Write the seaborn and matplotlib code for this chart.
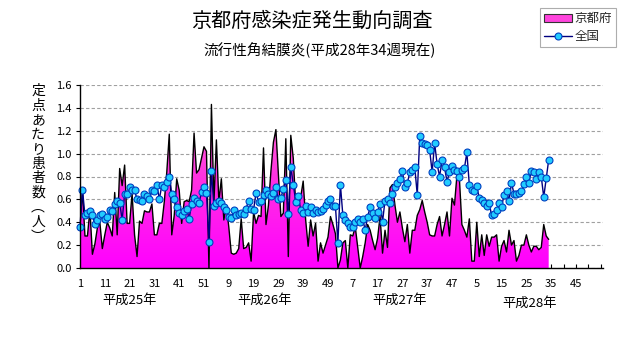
import numpy as np
import pandas as pd
import matplotlib
matplotlib.use("Agg")
import matplotlib.pyplot as plt
import seaborn as sns
from matplotlib.patches import Patch
from matplotlib.lines import Line2D
from matplotlib.colors import LinearSegmentedColormap

# ---------------- data ----------------
kyoto = [
    0.38, 0.68, 0.28, 0.28, 0.51, 0.12, 0.21, 0.35, 0.40, 0.17,
    0.29, 0.40, 0.35, 0.28, 0.66, 0.29, 0.87, 0.72, 0.90, 0.39,
    0.39, 0.65, 0.29, 0.10, 0.41, 0.39, 0.50, 0.49, 0.49, 0.56,
    0.29, 0.29, 0.39, 0.39, 0.58, 0.84, 1.17, 0.29, 0.46, 0.78,
    0.68, 0.39, 0.58, 0.59, 0.58, 0.68, 1.18, 0.83, 0.86, 0.96,
    1.06, 1.02, 0.00, 1.43, 0.57, 1.12, 0.58, 0.78, 0.42, 0.55,
    0.36, 0.13, 0.12, 0.13, 0.17, 0.43, 0.17, 0.18, 0.22, 0.06,
    0.49, 0.39, 0.46, 0.45, 1.05, 0.38, 0.55, 0.85, 1.10, 1.21,
    0.82, 0.45, 0.48, 1.13, 0.10, 1.16, 0.96, 0.55, 0.55, 0.62,
    0.76, 0.42, 0.19, 0.42, 0.28, 0.39, 0.06, 0.22, 0.13, 0.20,
    0.27, 0.45, 0.38, 0.30, 0.00, 0.07, 0.22, 0.24, 0.00, 0.29,
    0.28, 0.36, 0.18, 0.00, 0.10, 0.22, 0.38, 0.33, 0.24, 0.16,
    0.26, 0.45, 0.13, 0.33, 0.18, 0.70, 0.73, 0.55, 0.40, 0.49,
    0.35, 0.23, 0.38, 0.13, 0.33, 0.33, 0.46, 0.51, 0.59, 0.49,
    0.40, 0.29, 0.28, 0.28, 0.38, 0.45, 0.28, 0.38, 0.49, 0.28,
    0.61, 0.55, 0.81, 0.78, 0.38, 0.33, 0.27, 0.43, 0.06, 0.06,
    0.40, 0.10, 0.29, 0.11, 0.29, 0.19, 0.27, 0.27, 0.29, 0.06,
    0.19, 0.24, 0.14, 0.33, 0.20, 0.24, 0.06, 0.11, 0.20, 0.20,
    0.29, 0.20, 0.14, 0.19, 0.19, 0.16, 0.18, 0.38, 0.28, 0.25,
]
national = [
    0.36, 0.685, 0.46, 0.48, 0.50, 0.46, 0.385, 0.42, 0.46, 0.47,
    0.43, 0.45, 0.51, 0.50, 0.56, 0.59, 0.57, 0.42, 0.65, 0.65,
    0.71, 0.68, 0.68, 0.60, 0.595, 0.585, 0.65, 0.63, 0.60, 0.68,
    0.67, 0.73, 0.60, 0.725, 0.71, 0.755, 0.80, 0.645, 0.60, 0.535,
    0.48, 0.46, 0.50, 0.52, 0.43, 0.56, 0.61, 0.59, 0.565, 0.665,
    0.71, 0.66, 0.23, 0.85, 0.54, 0.57, 0.59, 0.565, 0.535, 0.51,
    0.45, 0.435, 0.51, 0.46, 0.47, 0.48, 0.47, 0.52, 0.59, 0.52,
    0.51, 0.66, 0.58, 0.59, 0.64, 0.68, 0.65, 0.63, 0.66, 0.705,
    0.60, 0.61, 0.69, 0.77, 0.47, 0.885, 0.73, 0.58, 0.63, 0.51,
    0.48, 0.54, 0.49, 0.53, 0.48, 0.51, 0.49, 0.50, 0.52, 0.55,
    0.59, 0.60, 0.54, 0.54, 0.22, 0.73, 0.46, 0.42, 0.39, 0.36,
    0.355, 0.40, 0.43, 0.40, 0.43, 0.33, 0.45, 0.53, 0.48, 0.44,
    0.49, 0.56, 0.405, 0.59, 0.60, 0.57, 0.65, 0.705, 0.74, 0.775,
    0.85, 0.705, 0.74, 0.84, 0.86, 0.88, 0.64, 1.15, 1.09, 1.08,
    1.075, 1.03, 0.84, 1.09, 0.91, 0.80, 0.94, 0.88, 0.755, 0.84,
    0.89, 0.86, 0.85, 0.80, 0.86, 0.87, 1.01, 0.725, 0.68, 0.675,
    0.715, 0.61, 0.595, 0.57, 0.54, 0.565, 0.46, 0.47, 0.51, 0.565,
    0.535, 0.64, 0.67, 0.59, 0.745, 0.65, 0.65, 0.66, 0.67, 0.735,
    0.80, 0.745, 0.85, 0.84, 0.775, 0.84, 0.80, 0.62, 0.785, 0.945,
]
tick_labels = ["1", "11", "21", "31", "41", "51", "9", "19", "29", "39", "49",
               "7", "17", "27", "37", "47", "5", "15", "25", "35", "45"]
year_labels = ["平成25年", "平成26年", "平成27年", "平成28年"]
series_names = ["京都府", "全国"]
title = "京都府感染症発生動向調査"
subtitle = "流行性角結膜炎(平成28年34週現在)"
ylabel_chars = ["定", "点", "あ", "た", "り", "患", "者", "数", "︵", "人", "︶"]

# ---------------- style ----------------
sns.set_theme(style="white")
plt.rcParams["font.family"] = ["Noto Sans CJK JP", "DejaVu Sans"]

W, H = 631, 347
fig = plt.figure(figsize=(W / 100, H / 100), dpi=100)
fig.patch.set_facecolor("white")
ax = fig.add_axes([80 / W, 1 - 268 / H, 523 / W, 183 / H])
ax.set_facecolor("white")

df = pd.DataFrame({"idx": np.arange(len(kyoto)), "kyoto": kyoto, "national": national})
n = len(df)

# gradient filled area for Kyoto
poly = ax.fill_between(df["idx"], 0, df["kyoto"], facecolor="none", edgecolor="none", zorder=1)
grad = np.linspace(0, 1, 256).reshape(-1, 1)
cmap = LinearSegmentedColormap.from_list("g", ["#FF00FF", "#FF33E0", "#FF80D0"])
im = ax.imshow(grad, extent=(0, n - 1, 0, 1.6), origin="lower", aspect="auto",
               cmap=cmap, zorder=1, interpolation="bilinear")
im.set_clip_path(poly.get_paths()[0], transform=ax.transData)

sns.lineplot(data=df, x="idx", y="kyoto", color="black", lw=1.0, ax=ax, zorder=3)
sns.lineplot(data=df, x="idx", y="national", color="#000080", lw=1.0, marker="o",
             markersize=5, markerfacecolor="#22CCFF", markeredgecolor="#0040C0",
             markeredgewidth=0.8, ax=ax, zorder=4, clip_on=False)

ax.set_xlim(0, 210.9)
ax.set_ylim(0, 1.6)
ax.set_xlabel("")
ax.set_ylabel("")

ax.set_xticks(np.arange(0, 201, 10))
ax.set_xticklabels(tick_labels)
ax.set_xticks(np.arange(0, 211, 5), minor=True)
yt = np.round(np.arange(0, 1.61, 0.2), 1)
ax.set_yticks(yt)
ax.set_yticklabels([f"{v:.1f}" for v in yt])

ax.tick_params(axis="x", which="both", bottom=True, direction="in", length=3, width=0.8,
               color="black", pad=8, labelsize=8, labelcolor="black")
ax.tick_params(axis="y", left=True, direction="out", length=3, width=0.8,
               color="black", pad=3, labelsize=8, labelcolor="black")

ax.yaxis.grid(True, linestyle=(0, (3, 2)), color="#A0A0A0", lw=0.8)
ax.xaxis.grid(False)
ax.set_axisbelow(True)
for s in ["top", "right"]:
    ax.spines[s].set_visible(False)
for s in ["left", "bottom"]:
    ax.spines[s].set_color("black")
    ax.spines[s].set_linewidth(1.0)
    ax.spines[s].set_zorder(5)

# titles
fig.text(312 / W, 1 - 21 / H, title, ha="center", va="center", fontsize=14.5, color="black")
fig.text(320 / W, 1 - 50 / H, subtitle, ha="center", va="center", fontsize=10.5, color="black")

# vertical y label
fig.text(38 / W, 1 - 84 / H, "\n".join(ylabel_chars), ha="center", va="top",
         fontsize=10, linespacing=1.05, color="black")

# year labels
for (xp, yp), lab in zip([(130, 300), (265, 300), (400, 300), (530, 303)], year_labels):
    fig.text(xp / W, 1 - yp / H, lab, ha="center", va="center", fontsize=9.5, color="black")

# legend
handles = [Patch(facecolor="#FF44DD", edgecolor="#333333", lw=0.8),
           Line2D([], [], color="#000080", lw=1, marker="o", markersize=5,
                  markerfacecolor="#22CCFF", markeredgecolor="#0040C0", markeredgewidth=0.8)]
leg = fig.legend(handles, series_names, loc="upper left", bbox_to_anchor=(540 / W, 1 - 8 / H),
                 frameon=True, fancybox=False, fontsize=9, handlelength=2.2, handleheight=0.5,
                 borderpad=0.35, labelspacing=0.35, handletextpad=0.2, borderaxespad=0)
leg.get_frame().set_edgecolor("#999999")
leg.get_frame().set_linewidth(0.8)

fig.savefig("out.png", dpi=100)
